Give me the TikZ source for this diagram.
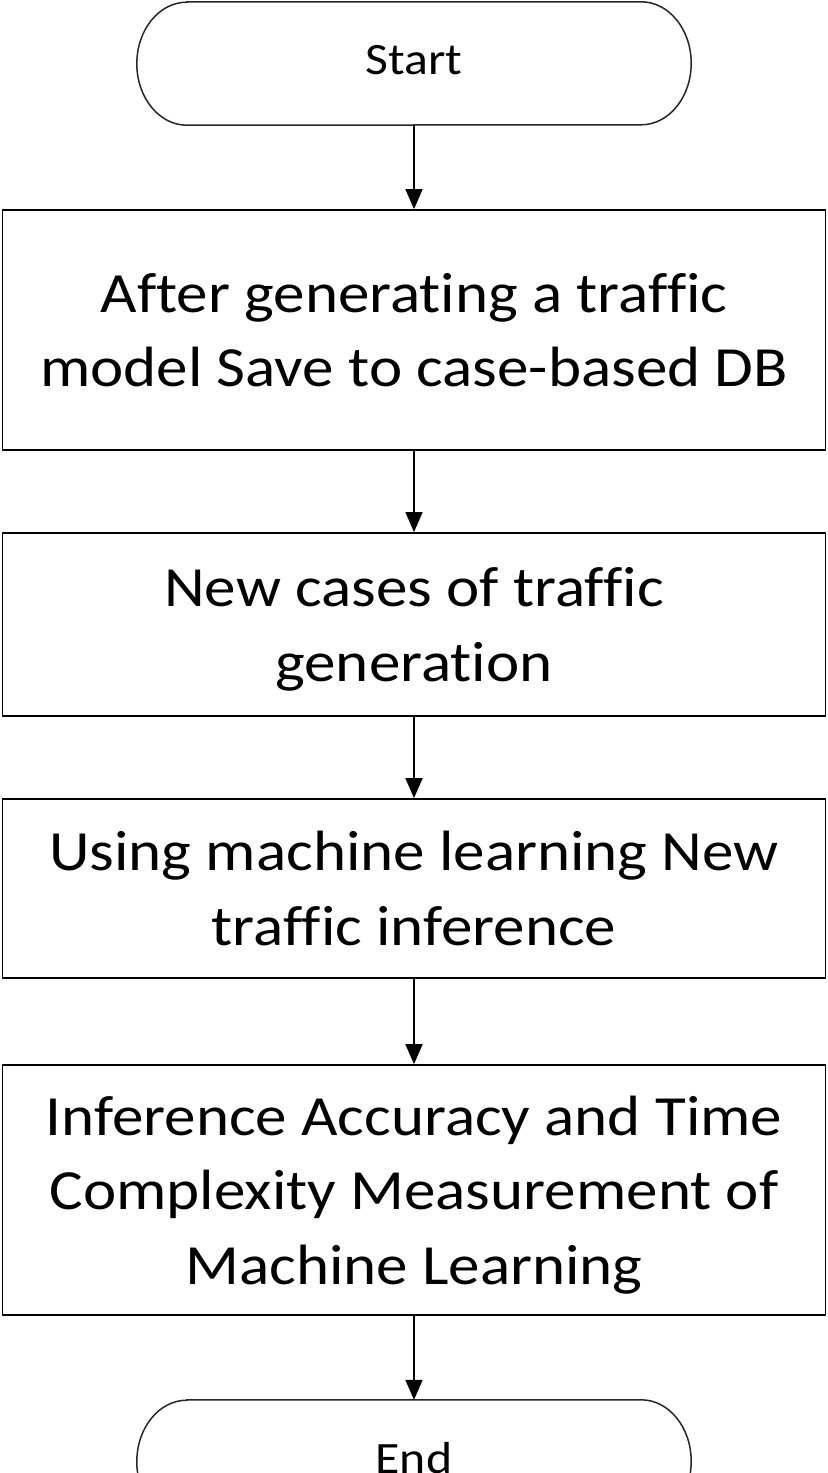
\documentclass[tikz,border=0pt]{standalone}
\usepackage{fontspec}
\setmainfont[FakeStretch=1.11,Ligatures=NoCommon]{Carlito}
\usetikzlibrary{arrows.meta,calc}
\begin{document}
\begin{tikzpicture}[x=1bp,y=-1bp,
  box/.style={draw,line width=1.8bp,minimum width=823bp,inner sep=0pt,align=center,text depth=0pt,font=\fontsize{57}{75}\selectfont},
  term/.style={minimum width=554bp,minimum height=123bp,inner sep=0pt,text height=29bp,text depth=6bp,font=\fontsize{45}{54}\selectfont},
  termline/.style={line width=1.5bp,draw=black!85},
  arr/.style={line width=1.8bp,-{Triangle[length=20bp,width=17bp]}}]
\useasboundingbox (0,0) rectangle (827,1473);
\clip (0,0) rectangle (827,1473);

\node[term] (start) at (414,63.5) {Start};
\draw[termline] ($(start.north west)+(50,0)$) -- ($(start.north east)+(-50,0)$)
  arc[start angle=90,end angle=-90,x radius=50bp,y radius=61.5bp]
  -- ($(start.south west)+(50,0)$)
  arc[start angle=270,end angle=90,x radius=50bp,y radius=61.5bp] -- cycle;

\node[box,minimum height=240bp] (b1) at (414,330) {After generating a traffic\\model Save to case-based DB};
\node[box,minimum height=183bp] (b2) at (414,624.5) {New cases of traffic\\generation};
\node[box,minimum height=179bp] (b3) at (414,888.5) {Using machine learning New\\traffic inference};
\node[box,minimum height=250bp] (b4) at (414,1190) {Inference Accuracy and Time\\Complexity Measurement of\\Machine Learning};

\node[term] (end) at (414,1461.5) {End};
\draw[termline] ($(end.north west)+(50,0)$) -- ($(end.north east)+(-50,0)$)
  arc[start angle=90,end angle=-90,x radius=50bp,y radius=61.5bp]
  -- ($(end.south west)+(50,0)$)
  arc[start angle=270,end angle=90,x radius=50bp,y radius=61.5bp] -- cycle;

\draw[arr] (start.south) -- (b1.north);
\draw[arr] (b1.south) -- (b2.north);
\draw[arr] (b2.south) -- (b3.north);
\draw[arr] (b3.south) -- (b4.north);
\draw[arr] (b4.south) -- (end.north);
\end{tikzpicture}
\end{document}
